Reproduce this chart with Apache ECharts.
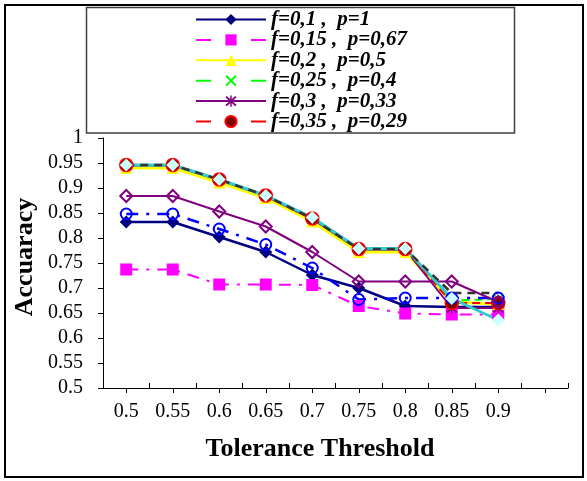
<!DOCTYPE html>
<html>
<head>
<meta charset="utf-8">
<script src="https://cdn.jsdelivr.net/npm/echarts@6/dist/echarts.min.js"></script>
<style>
html, body { margin: 0; padding: 0; background: #fff; }
#chart { width: 587px; height: 481px; }
</style>
</head>
<body>
<div id="chart"></div>
<script>
// tolerance thresholds (last slot is empty, Excel leaves room on the right)
const categories = ['0.5', '0.55', '0.6', '0.65', '0.7', '0.75', '0.8', '0.85', '0.9', '']
const yTicks = { min: 0.5, max: 1, step: 0.05 }

const legendNames = [
  'f=0,1 ,  p=1',
  'f=0,15 ,  p=0,67',
  'f=0,2 ,  p=0,5',
  'f=0,25 ,  p=0,4',
  'f=0,3 ,  p=0,33',
  'f=0,35 ,  p=0,29'
]

const s01 = [0.832, 0.832, 0.802, 0.772, 0.726, 0.700, 0.664, 0.662, 0.662]
const s015 = [0.737, 0.737, 0.707, 0.707, 0.706, 0.664, 0.649, 0.647, 0.647]
const s02 = [0.940, 0.940, 0.911, 0.880, 0.833, 0.772, 0.772, 0.672, 0.668]
const s025 = [0.945, 0.945, 0.916, 0.884, 0.838, 0.777, 0.777, 0.675, 0.678]
const s03 = [0.945, 0.945, 0.916, 0.884, 0.838, 0.777, 0.777, 0.660, 0.660]
const s035 = [0.946, 0.946, 0.917, 0.885, 0.839, 0.778, 0.778, 0.670, 0.670]
// series drawn in the plot but cut out of the legend box
const extraBlue = [0.848, 0.848, 0.818, 0.787, 0.740, 0.677, 0.680, 0.680, 0.680]
const extraPurple = [0.884, 0.884, 0.853, 0.823, 0.772, 0.713, 0.713, 0.713, 0.672]
const extraGray = [0.946, 0.946, 0.917, 0.885, 0.839, 0.778, 0.778, 0.690, 0.690]
const extraTeal = [0.946, 0.946, 0.917, 0.885, 0.841, 0.779, 0.779, 0.679, 0.636]

const serif = "'Times New Roman', 'Liberation Serif', serif"
const xMark = 'path://M1.57 0.43L9.57 8.43L8.43 9.57L0.43 1.57ZM8.43 0.43L9.57 1.57L1.57 9.57L0.43 8.43Z'
const starMark = 'path://M4.4 0L5.6 0L5.6 10L4.4 10ZM1.57 0.43L9.57 8.43L8.43 9.57L0.43 1.57ZM8.43 0.43L9.57 1.57L1.57 9.57L0.43 8.43Z'
const dashDot = [12, 8, 3, 8]
const legendDash = [15, 40]

function line(name, data, color, opts) {
  return Object.assign({
    name: name,
    type: 'line',
    data: data,
    symbolSize: 11,
    lineStyle: { color: color, width: 2 },
    itemStyle: { color: color },
    emphasis: { disabled: true }
  }, opts)
}

let myChart = echarts.init(document.getElementById('chart'), null, { renderer: 'canvas' })

let option = {
  animation: false,
  backgroundColor: '#fff',
  grid: { left: 103, right: 19, top: 138, bottom: 93, containLabel: false },
  legend: {
    orient: 'vertical',
    left: 195,
    top: 9,
    padding: 0,
    itemWidth: 70,
    itemHeight: 14,
    itemGap: -0.6,
    selectedMode: false,
    textStyle: {
      fontFamily: serif, fontSize: 21, fontStyle: 'italic', fontWeight: 'bold',
      color: '#000', lineHeight: 20
    },
    data: [
      { name: legendNames[0] },
      { name: legendNames[1], lineStyle: { type: legendDash } },
      { name: legendNames[2] },
      { name: legendNames[3], lineStyle: { type: legendDash } },
      { name: legendNames[4] },
      { name: legendNames[5], lineStyle: { type: legendDash } }
    ]
  },
  xAxis: [
    {
      type: 'category',
      position: 'bottom',
      data: categories,
      boundaryGap: true,
      axisLine: { show: true, lineStyle: { color: '#000', width: 1 } },
      axisTick: { show: true, inside: true, length: 5, interval: 0, lineStyle: { color: '#000' } },
      axisLabel: { show: false },
      splitLine: { show: false }
    },
    {
      type: 'category',
      position: 'bottom',
      data: categories,
      boundaryGap: true,
      axisLine: { show: false },
      axisTick: { show: true, alignWithLabel: true, length: 5, interval: 0, lineStyle: { color: '#000' } },
      axisLabel: { show: true, interval: 0, margin: 14, fontFamily: serif, fontSize: 20, color: '#000' },
      splitLine: { show: false }
    }
  ],
  yAxis: {
    type: 'value',
    min: yTicks.min,
    max: yTicks.max,
    interval: yTicks.step,
    axisLine: { show: true, lineStyle: { color: '#000', width: 1 } },
    axisTick: { show: true, length: 5, lineStyle: { color: '#000' } },
    axisLabel: { margin: 20, fontFamily: serif, fontSize: 20, color: '#000' },
    splitLine: { show: false }
  },
  graphic: [
    {
      type: 'rect', silent: true, z: 0,
      shape: { x: 5, y: 5, width: 578, height: 472 },
      style: { fill: 'none', stroke: '#000', lineWidth: 2 }
    },
    {
      type: 'rect', silent: true, z: 0,
      shape: { x: 86.5, y: 7.5, width: 428, height: 125.5 },
      style: { fill: 'none', stroke: '#404040', lineWidth: 1.5 }
    },
    {
      type: 'text', silent: true,
      x: 320, y: 449,
      style: {
        text: 'Tolerance Threshold', fill: '#000',
        font: 'bold 26px ' + serif, align: 'center', verticalAlign: 'middle'
      }
    },
    {
      type: 'text', silent: true,
      x: 25, y: 257, rotation: Math.PI / 2,
      style: {
        text: 'Accuaracy', fill: '#000',
        font: 'bold 26px ' + serif, align: 'center', verticalAlign: 'middle'
      }
    }
  ],
  series: [
    line(legendNames[0], s01, '#000080', { symbol: 'diamond', symbolSize: 13, lineStyle: { color: '#000080', width: 2.5 } }),
    line(legendNames[1], s015, '#ff00ff', { symbol: 'rect', symbolSize: 12, lineStyle: { color: '#ff00ff', width: 2, type: dashDot } }),
    line(legendNames[2], s02, '#ffff00', { symbol: 'triangle', symbolSize: 12, lineStyle: { color: '#ffff00', width: 3 } }),
    line(legendNames[3], s025, '#00ff00', { symbol: xMark, symbolSize: 10, lineStyle: { color: '#00ff00', width: 2, type: [8, 5] } }),
    line(legendNames[4], s03, '#800080', { symbol: starMark, symbolSize: 11, lineStyle: { color: '#800080', width: 2 } }),
    line(legendNames[5], s035, '#ff0000', {
      symbol: 'circle', symbolSize: 13,
      itemStyle: { color: '#800000', borderColor: '#ff0000', borderWidth: 1.5 },
      lineStyle: { color: '#ff0000', width: 2, type: [8, 5] }
    }),
    line('extra-blue', extraBlue, '#0000ff', {
      symbol: 'circle', symbolSize: 11,
      itemStyle: { color: 'rgba(0,0,0,0)', borderColor: '#0000ff', borderWidth: 2 },
      lineStyle: { color: '#0000ff', width: 2.5, type: dashDot }
    }),
    line('extra-purple', extraPurple, '#800080', {
      symbol: 'diamond', symbolSize: 12,
      itemStyle: { color: 'rgba(0,0,0,0)', borderColor: '#800080', borderWidth: 2 },
      lineStyle: { color: '#800080', width: 2 }
    }),
    line('extra-teal', extraTeal, '#33cccc', {
      symbol: 'diamond', symbolSize: 13,
      itemStyle: { color: '#ccffff' },
      lineStyle: { color: '#33cccc', width: 3 }
    }),
    line('extra-gray', extraGray, '#333333', {
      symbol: 'none',
      lineStyle: { color: '#333333', width: 2.5, type: [8, 6] }
    })
  ]
}

myChart.setOption(option)
</script>
</body>
</html>
